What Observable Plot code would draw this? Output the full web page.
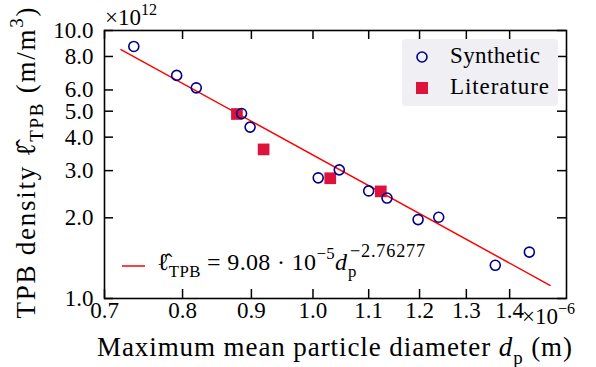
<!DOCTYPE html>
<html><head><meta charset="utf-8">
<script src="https://cdn.jsdelivr.net/npm/d3@7"></script>
<script src="https://cdn.jsdelivr.net/npm/@observablehq/plot@0.6"></script>
<style>body{margin:0;background:#fff} svg{display:block}</style>
</head><body><div id="chart"></div>
<script>
// x: maximum mean particle diameter (×1e-6 m); y: TPB density (×1e12 m/m^3)
const synthD = [0.736, 0.792, 0.819, 0.885, 0.898, 1.009, 1.046, 1.100, 1.135, 1.197, 1.240, 1.366, 1.448];
const synthL = [8.72, 6.80, 6.11, 4.90, 4.36, 2.82, 3.02, 2.52, 2.37, 1.97, 2.01, 1.33, 1.49];
const litD = [0.878, 0.919, 1.030, 1.123];
const litL = [4.88, 3.60, 2.81, 2.51];
const fitD = [0.72, 1.50];
const fitL = [8.49, 1.12];
const xTicks = [0.7, 0.8, 0.9, 1.0, 1.1, 1.2, 1.3, 1.4];
const yTicks = [1, 2, 3, 4, 5, 6, 8, 10];
const xDomain = [0.7, 1.543];
const yDomain = [1, 10];

const synth = synthD.map((d, i) => ({d, l: synthL[i]}));
const lit = litD.map((d, i) => ({d, l: litL[i]}));
const fit = fitD.map((d, i) => ({d, l: fitL[i]}));

const W = 596, H = 367, mL = 104, mR = 30, mT = 30, mB = 69;
const fw = W - mL - mR, fh = H - mT - mB, tk = 9;
const FONT = "Liberation Serif";
const fmt = d3.format(".1f");

const chart = Plot.plot({
  width: W, height: H,
  marginLeft: mL, marginRight: mR, marginTop: mT, marginBottom: mB,
  style: {fontFamily: FONT, fontSize: "23px", background: "#fff", color: "black"},
  x: {type: "log", domain: xDomain, axis: null},
  y: {type: "log", domain: yDomain, axis: null},
  marks: [
    Plot.line(fit, {x: "d", y: "l", stroke: "#ff0000", strokeWidth: 1.5}),
    Plot.dot(lit, {x: "d", y: "l", symbol: "square", r: 6.6, fill: "#dc143c", stroke: "none"}),
    Plot.dot(synth, {x: "d", y: "l", r: 5, stroke: "#00008b", strokeWidth: 1.6, fill: "none"}),
    Plot.tickX(xTicks, {x: d => d, insetTop: fh - tk, stroke: "black", strokeWidth: 1.5}),
    Plot.tickX(xTicks, {x: d => d, insetBottom: fh - tk, stroke: "black", strokeWidth: 1.5}),
    Plot.tickY(yTicks, {y: d => d, insetRight: fw - tk, stroke: "black", strokeWidth: 1.5}),
    Plot.tickY(yTicks, {y: d => d, insetLeft: fw - tk, stroke: "black", strokeWidth: 1.5}),
    Plot.frame({stroke: "black", strokeWidth: 1.6}),
    Plot.text(xTicks, {x: d => d, text: d => fmt(d), frameAnchor: "bottom", dy: 19, fontSize: 23, fill: "black"}),
    Plot.text(yTicks, {y: d => d, text: d => fmt(d), frameAnchor: "left", textAnchor: "end", dx: -11, fontSize: 23, fill: "black"})
  ]
});
document.getElementById("chart").appendChild(chart);

const svg = d3.select(chart);
const g = svg.append("g").attr("font-family", FONT).attr("fill", "#000").attr("text-anchor", "start");

function rich(parent, x, y, parts, size, opts = {}) {
  const t = parent.append("text").attr("x", x).attr("y", y).attr("font-size", size)
    .attr("text-anchor", opts.anchor || "start");
  if (opts.transform) t.attr("transform", opts.transform);
  if (opts.spacing) t.attr("letter-spacing", opts.spacing);
  const sr = opts.ratio || 0.7;
  let shift = 0;
  for (const p of parts) {
    const ts = t.append("tspan").text(p.t);
    const target = p.sub ? 0.28 * size : p.sup ? -0.45 * size : 0;
    if (target !== shift) ts.attr("dy", target - shift);
    shift = target;
    if (p.sub || p.sup) ts.attr("font-size", sr * size);
    if (p.it) ts.attr("font-style", "italic");
  }
  if (opts.len) t.attr("textLength", opts.len).attr("lengthAdjust", "spacing");
  return t;
}

// axis titles
rich(g, 334.5, 356, [
  {t: "Maximum mean particle diameter "}, {t: "d", it: true}, {t: "p", sub: true}, {t: " (m)"}
], 27, {anchor: "middle", len: 475});
rich(g, 0, 0, [
  {t: "TPB density "}, {t: "ℓ\u0302"}, {t: "TPB", sub: true}, {t: " (m/m"}, {t: "3", sup: true}, {t: ")"}
], 27, {anchor: "middle", transform: "translate(35,163) rotate(-90)", len: 311});

// offset texts
rich(g, 105, 25, [{t: "×10"}, {t: "12", sup: true}], 23);
rich(g, 522, 324, [{t: "×10"}, {t: "−6", sup: true}], 23);

// legend (markers)
g.append("rect").attr("x", 402).attr("y", 39).attr("width", 156).attr("height", 67)
  .attr("rx", 4).attr("fill", "#efeff4");
g.append("circle").attr("cx", 422).attr("cy", 57).attr("r", 5)
  .attr("fill", "none").attr("stroke", "#00008b").attr("stroke-width", 1.6);
g.append("rect").attr("x", 416).attr("y", 82).attr("width", 12).attr("height", 12).attr("fill", "#dc143c");
rich(g, 450, 63, [{t: "Synthetic"}], 23, {len: 90});
rich(g, 450, 94, [{t: "Literature"}], 23, {len: 99});

// legend (fit)
g.append("line").attr("x1", 122).attr("x2", 145).attr("y1", 266).attr("y2", 266)
  .attr("stroke", "#ff0000").attr("stroke-width", 1.5);
rich(g, 157, 270, [
  {t: "ℓ\u0302"}, {t: "TPB", sub: true}, {t: " = 9.08 · 10"}, {t: "−5", sup: true}, {t: "d", it: true}
], 24, {len: 190});
rich(g, 348, 270, [{t: "p", sub: true}], 24);
rich(g, 350, 268, [{t: "−2.76277", sup: true}], 24, {ratio: 0.76, spacing: 0.8});
</script></body></html>
